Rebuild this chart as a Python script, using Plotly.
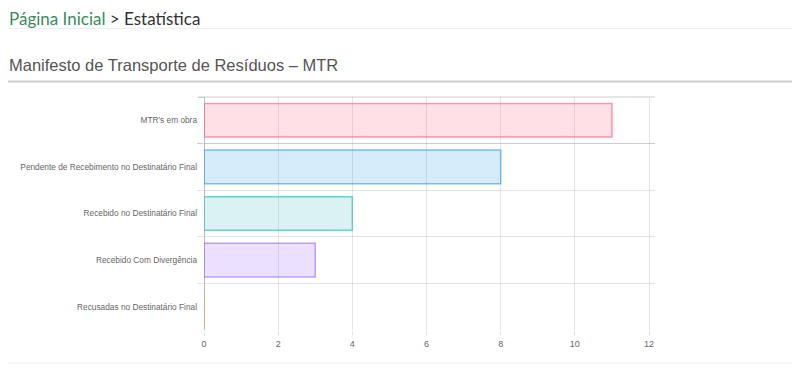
import plotly.graph_objects as go

categories = ["MTR's em obra",
              "Pendente de Recebimento no Destinatário Final",
              "Recebido no Destinatário Final",
              "Recebido Com Divergência",
              "Recusadas no Destinatário Final"]
values = [11, 8, 4, 3, 0]
fill_colors = ["rgba(255,99,132,0.2)", "rgba(54,162,235,0.2)", "rgba(75,192,192,0.2)",
               "rgba(153,102,255,0.2)", "rgba(255,159,64,0.2)"]
border_colors = ["rgba(255,99,132,0.65)", "rgba(54,162,235,0.65)", "rgba(75,192,192,0.75)",
                 "rgba(153,102,255,0.6)", "rgba(255,159,64,0.6)"]
x_ticks = [0, 2, 4, 6, 8, 10, 12]

OFF = 8  # body margin of the page
W, H = 800, 377
# plot area in page pixels
L, R, T, B = 204, 655, 97, 330
Lf, Rf, Tf, Bf = L - OFF, R - OFF, T - OFF, B - OFF

def px(x):
    return (x - L) / (R - L)

def py(y):
    return (B - y) / (B - T)

fig = go.Figure(go.Bar(
    x=values, y=categories, orientation="h", width=0.72,
    marker=dict(color=fill_colors, line=dict(color=border_colors, width=1.5)),
    hoverinfo="skip",
))

fig.update_layout(
    width=W, height=H,
    margin=dict(l=Lf, r=W - Rf, t=Tf, b=H - Bf),
    paper_bgcolor="white", plot_bgcolor="white",
    showlegend=False,
    font=dict(family="Liberation Sans, Arial, sans-serif", color="#666"),
    xaxis=dict(range=[0, 12 * (R - L) / (649 - L)], tickvals=x_ticks,
               showgrid=True, gridcolor="rgba(0,0,0,0.1)", gridwidth=1,
               zeroline=True, zerolinecolor="rgba(0,0,0,0.25)", zerolinewidth=1,
               ticks="outside", ticklen=5, tickcolor="rgba(0,0,0,0.1)",
               tickfont=dict(size=9, color="#666"), showline=False, fixedrange=True),
    yaxis=dict(categoryorder="array", categoryarray=categories, autorange="reversed",
               tickson="boundaries", showgrid=True, gridcolor="rgba(0,0,0,0.1)", gridwidth=1,
               ticks="outside", ticklen=6, tickcolor="rgba(0,0,0,0.1)",
               ticklabelstandoff=6,
               tickfont=dict(size=8.3, color="#666"), showline=False, fixedrange=True),
)

fig.add_shape(type="line", xref="paper", yref="paper", x0=px(198), x1=px(655),
              y0=py(T), y1=py(T), line=dict(color="rgba(0,0,0,0.2)", width=1))

# page decorations
fig.add_shape(type="line", xref="paper", yref="paper", x0=px(8), x1=px(793),
              y0=py(28.5), y1=py(28.5), line=dict(color="#eeeeee", width=1))
fig.add_shape(type="line", xref="paper", yref="paper", x0=px(8), x1=px(793),
              y0=py(81.5), y1=py(81.5), line=dict(color="#cccccc", width=2))
fig.add_shape(type="line", xref="paper", yref="paper", x0=px(8), x1=px(793),
              y0=py(363), y1=py(363), line=dict(color="#eeeeee", width=1))

fig.add_annotation(xref="paper", yref="paper", x=px(7), y=py(18), xanchor="left", yanchor="middle",
                   text="<span style='color:#3a8a5d'>Página Inicial</span> &gt; Estatística",
                   showarrow=False, font=dict(family="Lato, sans-serif", size=17, color="#333"))
fig.add_annotation(xref="paper", yref="paper", x=px(7), y=py(65), xanchor="left", yanchor="middle",
                   text="Manifesto de Transporte de Resíduos – MTR",
                   showarrow=False, font=dict(family="Liberation Sans, Arial, sans-serif", size=16.5, color="#555"))

fig.write_html("out.html", config={"displayModeBar": False})
